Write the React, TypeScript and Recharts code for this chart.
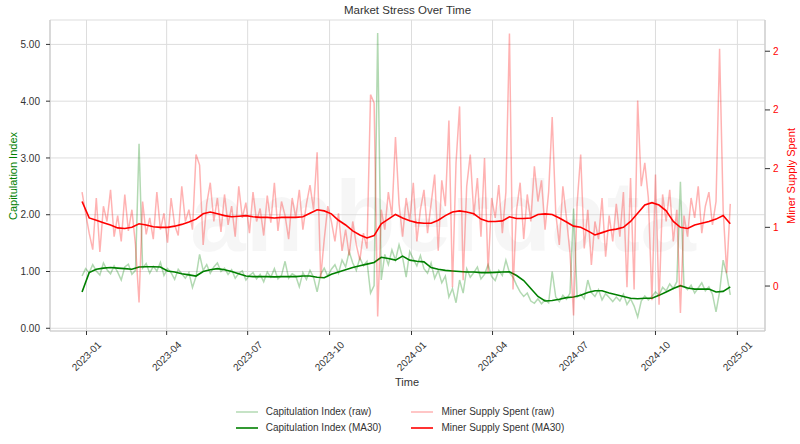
import React from 'react';
import { LineChart, Line, XAxis, YAxis, CartesianGrid, Legend, Label } from 'recharts';

// daily series sampled every 4 days (raw) and every 8 days (30-day moving average)
const START = Date.UTC(2022, 11, 27);
const DAY = 86400000;
const RAW_STEP = 4;
const MA_STEP = 8;

const CAP_RAW = [
  0.92, 1.05, 0.98, 1.12, 1.01, 0.94, 1.15, 1.03, 0.96, 1.10,
  0.99, 0.85, 1.08, 1.13, 0.95, 1.02, 3.25, 1.06, 1.14, 0.97,
  1.09, 1.01, 1.16, 0.93, 1.05, 0.98, 0.86, 1.04, 0.96, 0.88,
  0.98, 0.72, 0.91, 1.30, 1.02, 1.12, 0.97, 1.08, 1.15, 1.00,
  1.06, 0.95, 1.03, 0.88, 0.97, 1.01, 0.85, 0.93, 0.98, 0.87,
  0.95, 0.82, 0.99, 0.90, 1.05, 0.87, 0.93, 1.18, 0.88, 0.96,
  0.92, 0.73, 0.98, 0.86, 1.02, 0.90, 0.64, 0.95, 1.06, 0.92,
  1.04, 1.12, 0.97, 1.20, 1.08, 1.35, 1.15, 1.02, 1.24, 1.10,
  1.18, 0.62, 0.75, 5.20, 0.85, 1.30, 1.12, 1.38, 1.20, 1.47,
  1.25, 0.90, 1.35, 1.22, 1.10, 1.28, 1.05, 0.97, 1.15, 0.88,
  1.02, 0.80, 0.92, 0.55, 0.70, 0.45, 0.85, 0.62, 1.05, 0.90,
  0.98, 1.08, 0.87, 0.95, 1.12, 0.91, 0.84, 1.02, 0.93, 1.20,
  0.98, 0.90, 0.76, 0.64, 0.56, 0.62, 0.48, 0.44, 0.52, 0.43,
  0.50, 0.45, 1.00, 0.55, 0.47, 0.58, 0.51, 0.62, 2.11, 0.55,
  0.60, 0.52, 0.85, 0.63, 0.56, 0.68, 0.50, 0.61, 0.54, 0.47,
  0.55, 0.48, 0.60, 0.42, 0.52, 0.39, 0.20, 0.48, 0.57, 0.50,
  0.56, 0.64, 0.58, 0.72, 0.66, 0.78, 0.70, 0.82, 2.58, 0.74,
  0.68, 0.76, 0.62, 0.71, 0.80, 0.66, 0.73, 0.60, 0.29, 0.64,
  1.20, 0.95, 0.59,
];

const CAP_MA = [
  0.64, 0.98, 1.04, 1.06, 1.07, 1.06, 1.05, 1.04, 1.08, 1.085,
  1.085, 1.08, 1.01, 0.99, 0.96, 0.94, 0.92, 1.00, 1.03, 1.05,
  1.03, 1.00, 0.96, 0.92, 0.91, 0.91, 0.91, 0.905, 0.91, 0.91,
  0.91, 0.92, 0.92, 0.90, 0.89, 0.95, 0.99, 1.03, 1.07, 1.10,
  1.13, 1.16, 1.25, 1.23, 1.20, 1.27, 1.20, 1.18, 1.17, 1.07,
  1.04, 1.02, 1.01, 1.00, 0.99, 0.99, 0.98, 0.98, 0.985, 0.99,
  0.995, 0.93, 0.84, 0.70, 0.56, 0.48, 0.49, 0.51, 0.54, 0.55,
  0.58, 0.63, 0.66, 0.66, 0.62, 0.59, 0.56, 0.53, 0.52, 0.53,
  0.53, 0.58, 0.64, 0.70, 0.75, 0.71, 0.69, 0.69, 0.69, 0.64,
  0.65, 0.73,
];

const MINER_RAW = [
  1.30, 1.12, 0.95, 0.81, 1.25, 0.79, 1.18, 1.05, 1.32, 0.92,
  1.10, 0.88, 1.28, 0.97, 1.15, 0.85, 0.36, 1.22, 0.94, 1.08,
  0.90, 1.30, 0.98, 1.12, 0.87, 1.25, 1.02, 0.93, 1.35, 1.05,
  1.15, 0.98, 1.62, 1.53, 0.85, 1.20, 1.38, 1.05, 1.25, 0.96,
  1.28, 1.02, 1.18, 0.92, 1.35, 1.08, 1.21, 0.95, 1.30, 1.05,
  1.16, 0.93, 1.27, 1.04, 1.38, 0.97, 1.22, 1.10, 0.90, 1.25,
  1.08, 1.32, 0.98, 1.20, 1.36, 1.15, 1.64, 0.57, 0.90, 1.18,
  1.05, 0.88, 1.12, 0.80, 0.98, 0.76, 1.05, 0.85, 0.72, 0.95,
  0.82, 2.13, 2.06, 0.24, 1.15, 0.98, 1.30, 1.10, 1.77, 1.20,
  0.92, 1.25, 1.05, 1.38, 0.88, 1.15, 1.32, 0.95, 1.20, 1.45,
  0.80, 1.40, 1.18, 1.91, 0.49, 1.55, 2.03, 0.55, 1.35, 1.62,
  1.10, 1.42, 0.92, 1.59, 0.62, 1.25, 1.08, 1.36, 0.95, 1.30,
  2.65, 0.47, 1.15, 1.38, 0.90, 1.28, 1.05, 1.52, 1.22, 1.40,
  0.98, 1.30, 1.94, 1.12, 0.85, 1.35, 1.08, 0.78, 0.25, 1.20,
  1.62, 0.82, 1.15, 0.68, 1.05, 0.90, 1.25, 0.75, 1.10, 0.88,
  1.20, 0.92, 1.30, 0.49, 1.42, 0.47, 2.08, 1.35, 1.55, 1.25,
  0.38, 1.45, 0.34, 1.28, 1.05, 1.32, 0.88, 1.15, 0.27, 1.10,
  0.92, 1.25, 1.08, 1.35, 0.95, 1.18, 1.30, 1.02, 1.22, 2.52,
  1.15, 0.61, 1.20,
];

const MINER_MA = [
  1.22, 1.08, 1.06, 1.04, 1.02, 0.995, 0.99, 1.00, 1.03, 1.02,
  1.005, 1.00, 1.00, 1.01, 1.025, 1.045, 1.07, 1.115, 1.13, 1.115,
  1.10, 1.09, 1.095, 1.10, 1.09, 1.085, 1.085, 1.08, 1.085, 1.085,
  1.085, 1.09, 1.12, 1.15, 1.14, 1.115, 1.06, 1.02, 0.97, 0.935,
  0.91, 0.93, 1.03, 1.07, 1.11, 1.08, 1.056, 1.04, 1.035, 1.035,
  1.06, 1.10, 1.13, 1.14, 1.13, 1.115, 1.07, 1.05, 1.05, 1.055,
  1.09, 1.075, 1.075, 1.08, 1.11, 1.115, 1.11, 1.08, 1.045, 1.01,
  1.00, 0.97, 0.935, 0.955, 0.975, 0.985, 1.00, 1.05, 1.12, 1.19,
  1.21, 1.19, 1.14, 1.05, 1.00, 0.99, 1.02, 1.035, 1.05, 1.07,
  1.10, 1.03,
];

const X_TICKS = ['2023-01', '2023-04', '2023-07', '2023-10', '2024-01', '2024-04', '2024-07', '2024-10', '2025-01'];
const LEFT_TICKS = [0, 1, 2, 3, 4, 5];
const RIGHT_TICKS = [0.5, 1, 1.5, 2, 2.5];

const SERIES = [
  { key: 'capRaw', name: 'Capitulation Index (raw)', color: '#008000', opacity: 0.3, width: 1.5, axis: 'left' },
  { key: 'capMa', name: 'Capitulation Index (MA30)', color: '#008000', opacity: 1, width: 1.6, axis: 'left' },
  { key: 'minerRaw', name: 'Miner Supply Spent (raw)', color: '#ff0000', opacity: 0.3, width: 1.5, axis: 'right' },
  { key: 'minerMa', name: 'Miner Supply Spent (MA30)', color: '#ff0000', opacity: 1, width: 1.6, axis: 'right' },
];

const toTs = (s: string) => {
  const [y, m] = s.split('-').map(Number);
  return Date.UTC(y, m - 1, 1);
};

const fmtMonth = (v: number) => {
  const d = new Date(v);
  return `${d.getUTCFullYear()}-${String(d.getUTCMonth() + 1).padStart(2, '0')}`;
};

// matplotlib %.0f rounds half to even
const halfEven = (v: number) => {
  const f = Math.floor(v);
  if (Math.abs(v - f - 0.5) < 1e-9) return String(f % 2 === 0 ? f : f + 1);
  return String(Math.round(v));
};

const data = CAP_RAW.map((c, i) => {
  const day = i * RAW_STEP;
  const row: any = { t: START + day * DAY, capRaw: c, minerRaw: MINER_RAW[i] };
  if (day % MA_STEP === 0) {
    row.capMa = CAP_MA[day / MA_STEP];
    row.minerMa = MINER_MA[day / MA_STEP];
  }
  return row;
});

const X_DOMAIN = [Date.UTC(2022, 10, 21), Date.UTC(2025, 1, 1)];
const FONT = '"Liberation Sans", Arial, sans-serif';
const FRAME = '#cccccc';

const XTick = (props: any) => {
  const { x, y, payload } = props;
  return (
    <g transform={`translate(${x},${y + 19}) rotate(-45)`}>
      <text textAnchor="middle" dy="0.35em" fontSize={10} fill="#333" fontFamily={FONT}>
        {fmtMonth(payload.value)}
      </text>
    </g>
  );
};

const LegendBox = () => (
  <div style={{ display: 'flex', justifyContent: 'center', fontFamily: FONT, fontSize: 10, color: '#333' }}>
    <div style={{ display: 'grid', gridTemplateColumns: 'auto auto', columnGap: 30, rowGap: 3 }}>
      {[0, 2, 1, 3].map((k) => {
        const s = SERIES[k];
        return (
          <div key={s.key} style={{ display: 'flex', alignItems: 'center', height: 13 }}>
            <svg width={22} height={6} style={{ marginRight: 8 }}>
              <line x1={0} y1={3} x2={22} y2={3} stroke={s.color} strokeOpacity={s.opacity} strokeWidth={s.width} />
            </svg>
            <span>{s.name}</span>
          </div>
        );
      })}
    </div>
  </div>
);

export default function App() {
  return (
    <div style={{ position: 'fixed', left: 0, top: 0, width: 800, height: 444, background: '#fff', fontFamily: FONT }}>
      <div
        style={{
          position: 'absolute', left: 190, top: 166, fontSize: 100, lineHeight: '100px', fontWeight: 700,
          color: 'rgba(0,0,0,0.035)', fontFamily: FONT, whiteSpace: 'nowrap',
        }}
      >
        amberdata
      </div>
      <div style={{ position: 'absolute', left: 0, top: 4, width: 815, textAlign: 'center', fontSize: 11.5, color: '#333' }}>
        Market Stress Over Time
      </div>
      <div style={{ position: 'absolute', left: 0, top: 0 }}>
        <LineChart width={800} height={444} data={data} margin={{ top: 20, right: 10, bottom: 0, left: 10 }}>
          <CartesianGrid yAxisId="left" stroke="#dddddd" strokeWidth={1} />
          <XAxis
            dataKey="t"
            type="number"
            scale="time"
            domain={X_DOMAIN}
            allowDataOverflow
            ticks={X_TICKS.map(toTs)}
            interval={0}
            tick={<XTick />}
            height={113}
            tickSize={4}
            tickMargin={2}
            axisLine={{ stroke: FRAME, strokeWidth: 1.2 }}
            tickLine={{ stroke: '#333' }}
          >
            <Label
              content={() => (
                <text x={407} y={386} textAnchor="middle" fontSize={11} fill="#333" fontFamily={FONT}>Time</text>
              )}
            />
          </XAxis>
          <XAxis
            xAxisId="top"
            dataKey="t"
            type="number"
            domain={X_DOMAIN}
            allowDataOverflow
            orientation="top"
            height={0}
            tick={false}
            tickLine={false}
            axisLine={{ stroke: FRAME, strokeWidth: 1.2 }}
          />
          <YAxis
            yAxisId="left"
            type="number"
            domain={[-0.048, 5.43]}
            allowDataOverflow
            ticks={LEFT_TICKS}
            interval={0}
            tickFormatter={(v: number) => v.toFixed(2)}
            width={40}
            tickSize={4}
            tickMargin={6}
            tick={{ fontSize: 10, fill: '#333', fontFamily: FONT }}
            axisLine={{ stroke: FRAME, strokeWidth: 1.2 }}
            tickLine={{ stroke: '#333' }}
          >
            <Label
              content={() => (
                <text x={14} y={176} transform="rotate(-90 14 176)" textAnchor="middle" dominantBaseline="middle" fontSize={11} fill="#008000" fontFamily={FONT}>
                  Capitulation Index
                </text>
              )}
            />
          </YAxis>
          <YAxis
            yAxisId="right"
            orientation="right"
            type="number"
            domain={[0.117, 2.766]}
            allowDataOverflow
            ticks={RIGHT_TICKS}
            interval={0}
            tickFormatter={halfEven}
            width={25}
            tickSize={5}
            tickMargin={3}
            tick={{ fontSize: 10, fill: '#ff0000', fontFamily: FONT }}
            axisLine={{ stroke: FRAME, strokeWidth: 1.2 }}
            tickLine={{ stroke: '#333' }}
          >
            <Label
              content={() => (
                <text x={792} y={176} transform="rotate(-90 792 176)" textAnchor="middle" dominantBaseline="middle" fontSize={11} fill="#ff0000" fontFamily={FONT}>
                  Miner Supply Spent
                </text>
              )}
            />
          </YAxis>
          {SERIES.map((s) => (
            <Line
              key={s.key}
              yAxisId={s.axis}
              dataKey={s.key}
              name={s.name}
              type="linear"
              stroke={s.color}
              strokeOpacity={s.opacity}
              strokeWidth={s.width}
              dot={false}
              activeDot={false}
              connectNulls
              isAnimationActive={false}
            />
          ))}
          <Legend
            layout="horizontal"
            verticalAlign="middle"
            align="center"
            content={<LegendBox />}
            wrapperStyle={{ top: 405, left: 0, width: 800 }}
          />
        </LineChart>
      </div>
    </div>
  );
}
